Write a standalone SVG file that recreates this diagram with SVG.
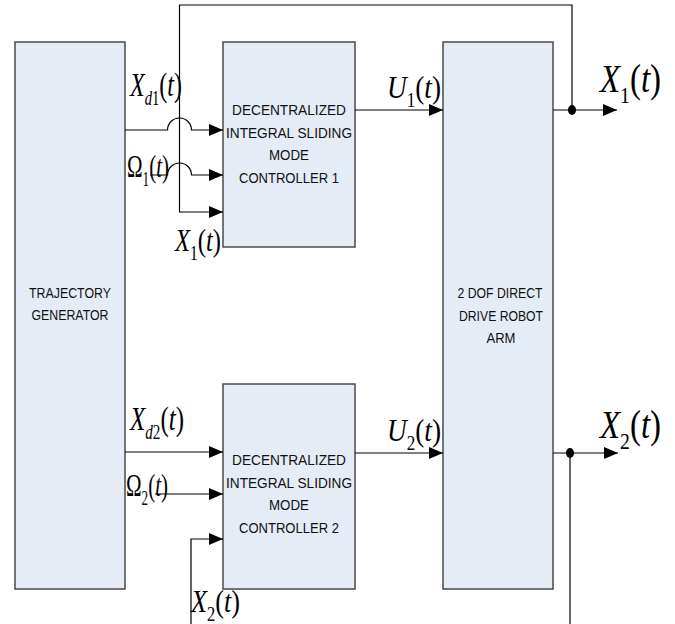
<svg xmlns="http://www.w3.org/2000/svg" width="675" height="624" viewBox="0 0 675 624">
<style>
.box{fill:#E5ECF6;stroke:#4a4a4a;stroke-width:1.5}
.bt{font-family:"Liberation Sans",Arial,sans-serif;font-size:15px;fill:#111;text-anchor:middle}
.ln{fill:none;stroke:#000;stroke-width:1.2}
.m{font-family:"Liberation Serif","Times New Roman",serif;fill:#000}
.i{font-style:italic}
</style>
<defs>
<marker id="ah" viewBox="0 0 14 12" refX="14" refY="6" markerWidth="14" markerHeight="12" markerUnits="userSpaceOnUse" orient="auto">
<path d="M0,0 L14,6 L0,12 z" fill="#000"/>
</marker>
</defs>
<rect width="675" height="624" fill="#fff"/>
<g id="traj">
<rect class="box" x="15" y="42" width="110" height="547"/>
<text class="bt" x="70" y="298" textLength="82" lengthAdjust="spacingAndGlyphs">TRAJECTORY</text>
<text class="bt" x="70" y="320" textLength="77" lengthAdjust="spacingAndGlyphs">GENERATOR</text>
</g>
<g id="ctrl1">
<rect class="box" x="223" y="42" width="132" height="205"/>
<text class="bt" x="289" y="115" textLength="114" lengthAdjust="spacingAndGlyphs">DECENTRALIZED</text>
<text class="bt" x="289" y="138" textLength="126" lengthAdjust="spacingAndGlyphs">INTEGRAL SLIDING</text>
<text class="bt" x="289" y="160" textLength="40" lengthAdjust="spacingAndGlyphs">MODE</text>
<text class="bt" x="289" y="183" textLength="100" lengthAdjust="spacingAndGlyphs">CONTROLLER 1</text>
</g>
<g id="ctrl2">
<rect class="box" x="223" y="384" width="132" height="205"/>
<text class="bt" x="289" y="465" textLength="114" lengthAdjust="spacingAndGlyphs">DECENTRALIZED</text>
<text class="bt" x="289" y="488" textLength="126" lengthAdjust="spacingAndGlyphs">INTEGRAL SLIDING</text>
<text class="bt" x="289" y="510" textLength="40" lengthAdjust="spacingAndGlyphs">MODE</text>
<text class="bt" x="289" y="533" textLength="100" lengthAdjust="spacingAndGlyphs">CONTROLLER 2</text>
</g>
<g id="robot">
<rect class="box" x="443" y="42" width="110" height="547"/>
<text class="bt" x="500" y="298" textLength="85" lengthAdjust="spacingAndGlyphs">2 DOF DIRECT</text>
<text class="bt" x="501" y="321" textLength="84" lengthAdjust="spacingAndGlyphs">DRIVE ROBOT</text>
<text class="bt" x="501" y="343" textLength="29" lengthAdjust="spacingAndGlyphs">ARM</text>
</g>
<g id="connectors">
<path class="ln" d="M125 130 H167.5 A12 12 0 0 1 191.5 130 H223" marker-end="url(#ah)"/>
<path class="ln" d="M150 175 H167.5 A12 12 0 0 1 191.5 175 H223" marker-end="url(#ah)"/>
<path class="ln" d="M572 110 V5 H179.5 V212 H223" marker-end="url(#ah)"/>
<path class="ln" d="M355 110 H443" marker-end="url(#ah)"/>
<path class="ln" d="M553 110 H617" marker-end="url(#ah)"/>
<ellipse cx="572" cy="110" rx="4" ry="5" fill="#000"/>
<path class="ln" d="M125 452 H223" marker-end="url(#ah)"/>
<path class="ln" d="M155 494 H223" marker-end="url(#ah)"/>
<path class="ln" d="M191 624 V539 H223" marker-end="url(#ah)"/>
<path class="ln" d="M355 453 H443" marker-end="url(#ah)"/>
<path class="ln" d="M553 453 H618" marker-end="url(#ah)"/>
<path class="ln" d="M570 453 V624"/>
<ellipse cx="570" cy="453" rx="4" ry="5" fill="#000"/>
</g>
<g id="labels">
<text class="m" x="130" y="96" font-size="33" textLength="52" lengthAdjust="spacingAndGlyphs"><tspan class="i">X</tspan><tspan class="i" font-size="20" dy="9">d</tspan><tspan font-size="20">1</tspan><tspan dy="-9">(</tspan><tspan class="i">t</tspan>)</text>
<text class="m" x="127" y="177" font-size="32" textLength="42" lengthAdjust="spacingAndGlyphs">Ω<tspan font-size="20" dy="9">1</tspan><tspan dy="-9">(</tspan><tspan class="i">t</tspan>)</text>
<text class="m" x="175" y="251" font-size="32" textLength="46" lengthAdjust="spacingAndGlyphs"><tspan class="i">X</tspan><tspan font-size="20" dy="9">1</tspan><tspan dy="-9">(</tspan><tspan class="i">t</tspan>)</text>
<text class="m" x="387" y="98" font-size="32" textLength="54" lengthAdjust="spacingAndGlyphs"><tspan class="i">U</tspan><tspan font-size="20" dy="9">1</tspan><tspan dy="-9">(</tspan><tspan class="i">t</tspan>)</text>
<text class="m" x="600" y="92" font-size="40" textLength="61" lengthAdjust="spacingAndGlyphs"><tspan class="i">X</tspan><tspan font-size="24" dy="11">1</tspan><tspan dy="-11">(</tspan><tspan class="i">t</tspan>)</text>
<text class="m" x="130" y="430" font-size="33" textLength="54" lengthAdjust="spacingAndGlyphs"><tspan class="i">X</tspan><tspan class="i" font-size="20" dy="9">d</tspan><tspan font-size="20">2</tspan><tspan dy="-9">(</tspan><tspan class="i">t</tspan>)</text>
<text class="m" x="126" y="496" font-size="32" textLength="42" lengthAdjust="spacingAndGlyphs">Ω<tspan font-size="20" dy="9">2</tspan><tspan dy="-9">(</tspan><tspan class="i">t</tspan>)</text>
<text class="m" x="191" y="612" font-size="32" textLength="49" lengthAdjust="spacingAndGlyphs"><tspan class="i">X</tspan><tspan font-size="20" dy="9">2</tspan><tspan dy="-9">(</tspan><tspan class="i">t</tspan>)</text>
<text class="m" x="387" y="441" font-size="32" textLength="54" lengthAdjust="spacingAndGlyphs"><tspan class="i">U</tspan><tspan font-size="20" dy="9">2</tspan><tspan dy="-9">(</tspan><tspan class="i">t</tspan>)</text>
<text class="m" x="600" y="438" font-size="40" textLength="61" lengthAdjust="spacingAndGlyphs"><tspan class="i">X</tspan><tspan font-size="24" dy="11">2</tspan><tspan dy="-11">(</tspan><tspan class="i">t</tspan>)</text>
</g>
</svg>
